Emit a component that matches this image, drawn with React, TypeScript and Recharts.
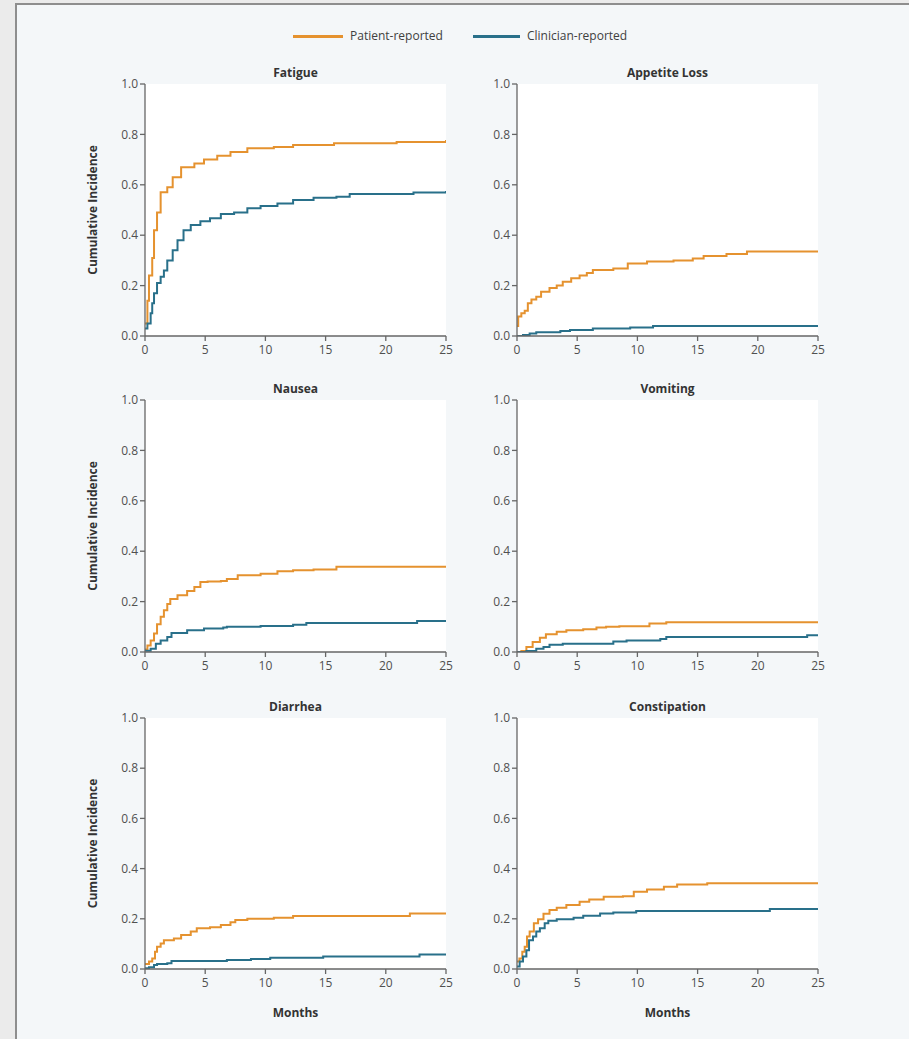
import React from 'react';
import { LineChart, Line, XAxis, YAxis, CartesianGrid } from 'recharts';

// ---------- Data (months, cumulative incidence) ----------
const MONTH_TICKS = [0, 5, 10, 15, 20, 25];
const INCIDENCE_TICKS = [0, 0.2, 0.4, 0.6, 0.8, 1.0];

const SERIES_NAMES = ['Patient-reported', 'Clinician-reported'];

const fatiguePatientT = [0, 0.2, 0.33, 0.6, 0.75, 1.0, 1.3, 1.85, 2.3, 3.0, 4.1, 4.9, 6.0, 7.1, 8.5, 10.7, 12.3, 15.7, 20.9, 25];
const fatiguePatientV = [0.05, 0.14, 0.24, 0.31, 0.42, 0.49, 0.57, 0.59, 0.63, 0.67, 0.685, 0.7, 0.715, 0.73, 0.745, 0.75, 0.758, 0.765, 0.77, 0.778];
const fatigueClinicianT = [0, 0.2, 0.47, 0.6, 0.75, 1.0, 1.3, 1.57, 1.85, 2.3, 2.7, 3.2, 3.8, 4.6, 5.4, 6.3, 7.4, 8.5, 9.6, 11, 12.3, 14, 15.9, 17, 22.3, 25];
const fatigueClinicianV = [0.03, 0.05, 0.09, 0.13, 0.17, 0.21, 0.235, 0.26, 0.3, 0.34, 0.38, 0.42, 0.44, 0.455, 0.467, 0.484, 0.49, 0.507, 0.516, 0.526, 0.54, 0.549, 0.553, 0.563, 0.569, 0.575];

const appetitePatientT = [0, 0.1, 0.36, 0.64, 0.9, 1.2, 1.6, 2.0, 2.7, 3.3, 3.8, 4.5, 5.2, 5.8, 6.3, 8.0, 9.2, 10.8, 13, 14.6, 15.5, 17.4, 19.1, 25];
const appetitePatientV = [0.04, 0.077, 0.09, 0.1, 0.13, 0.145, 0.156, 0.176, 0.19, 0.2, 0.215, 0.229, 0.24, 0.25, 0.262, 0.268, 0.288, 0.296, 0.3, 0.308, 0.317, 0.325, 0.335, 0.335];
const appetiteClinicianT = [0, 0.5, 1.05, 1.6, 3.6, 4.4, 6.3, 9.4, 11.3, 25];
const appetiteClinicianV = [0, 0.004, 0.01, 0.015, 0.02, 0.024, 0.03, 0.034, 0.04, 0.04];

const nauseaPatientT = [0, 0.2, 0.47, 0.75, 1.0, 1.3, 1.57, 1.85, 2.1, 2.7, 3.5, 4.1, 4.6, 5.2, 6.3, 6.8, 7.7, 9.6, 11, 12.3, 14, 15.9, 25];
const nauseaPatientV = [0.01, 0.026, 0.046, 0.073, 0.11, 0.14, 0.166, 0.19, 0.21, 0.225, 0.242, 0.258, 0.278, 0.28, 0.282, 0.29, 0.305, 0.311, 0.32, 0.324, 0.327, 0.338, 0.338];
const nauseaClinicianT = [0, 0.47, 0.9, 1.3, 1.85, 2.2, 3.5, 4.9, 6.5, 6.8, 9.6, 12.3, 13.4, 22.6, 25];
const nauseaClinicianV = [0.005, 0.013, 0.033, 0.046, 0.06, 0.075, 0.086, 0.093, 0.097, 0.1, 0.103, 0.108, 0.115, 0.123, 0.123];

const vomitingPatientT = [0, 0.36, 0.78, 1.3, 1.9, 2.4, 3.3, 4.1, 5.5, 6.6, 7.4, 8.5, 11, 12.4, 25];
const vomitingPatientV = [0, 0.004, 0.02, 0.04, 0.057, 0.07, 0.08, 0.086, 0.09, 0.097, 0.1, 0.102, 0.113, 0.118, 0.118];
const vomitingClinicianT = [0, 0.78, 1.6, 2.2, 2.7, 3.8, 8.0, 9.1, 11.9, 12.4, 24.1, 25];
const vomitingClinicianV = [0, 0.004, 0.013, 0.02, 0.029, 0.033, 0.042, 0.046, 0.052, 0.06, 0.066, 0.066];

const diarrheaPatientT = [0, 0.33, 0.6, 0.83, 1.0, 1.3, 1.57, 2.4, 3.0, 3.8, 4.3, 5.4, 6.3, 7.1, 7.5, 8.5, 10.7, 12.3, 22, 25];
const diarrheaPatientV = [0.02, 0.03, 0.042, 0.069, 0.089, 0.102, 0.115, 0.122, 0.135, 0.149, 0.162, 0.166, 0.175, 0.186, 0.195, 0.2, 0.204, 0.211, 0.221, 0.221];
const diarrheaClinicianT = [0, 0.33, 0.75, 1.0, 1.85, 2.2, 6.8, 8.8, 10.4, 14.8, 22.8, 25];
const diarrheaClinicianV = [0.003, 0.007, 0.016, 0.02, 0.023, 0.032, 0.036, 0.04, 0.045, 0.05, 0.058, 0.058];

const constipationPatientT = [0, 0.2, 0.44, 0.64, 0.83, 1.05, 1.4, 1.75, 2.2, 2.7, 3.3, 4.1, 5.2, 6.0, 7.2, 8.8, 9.7, 10.8, 12.2, 13.3, 15.8, 25];
const constipationPatientV = [0.03, 0.042, 0.069, 0.089, 0.129, 0.149, 0.182, 0.198, 0.22, 0.235, 0.244, 0.255, 0.268, 0.277, 0.288, 0.29, 0.308, 0.317, 0.328, 0.337, 0.342, 0.342];
const constipationClinicianT = [0, 0.22, 0.5, 0.78, 1.0, 1.33, 1.6, 1.9, 2.3, 2.6, 3.3, 4.7, 5.5, 6.9, 8.0, 9.9, 21, 25];
const constipationClinicianV = [0.01, 0.03, 0.05, 0.075, 0.115, 0.129, 0.149, 0.162, 0.182, 0.192, 0.198, 0.204, 0.212, 0.221, 0.225, 0.231, 0.239, 0.239];

// ---------- Styling ----------
const ORANGE = '#e5922f';
const TEAL = '#29708a';
const AXIS = '#666666';
const TICK_TEXT = '#505050';
const FONT = '"Open Sans", "DejaVu Sans", sans-serif';

const zip = (t: number[], v: number[]) => t.map((x, i) => ({ t: x, v: v[i] }));

type PanelProps = {
  title: string;
  patient: { t: number; v: number }[];
  clinician: { t: number; v: number }[];
  left: number;
  top: number;
  yLabel?: boolean;
  xLabel?: boolean;
};

const CHART_W = 371;
const Y_AXIS_W = 60;
const TOP_M = 30;
const PLOT_W = 301;

const Panel = ({ title, patient, clinician, left, top, yLabel, xLabel }: PanelProps) => {
  const xAxisH = xLabel ? 55 : 30;
  const plotH = xLabel ? 251 : 252;
  const height = TOP_M + plotH + xAxisH;
  const renderYLabel = (props: any) => {
    const vb = props.viewBox || {};
    const cx = (vb.x ?? 0) + 7;
    const cy = (vb.y ?? 0) + (vb.height ?? 0) / 2;
    return (
      <text
        x={cx}
        y={cy}
        transform={`rotate(-90 ${cx} ${cy})`}
        textAnchor="middle"
        dominantBaseline="central"
        fontSize={12}
        fontWeight={700}
        fill="#333"
        fontFamily={FONT}
      >
        Cumulative Incidence
      </text>
    );
  };
  const renderXLabel = (props: any) => {
    const vb = props.viewBox || {};
    const cx = (vb.x ?? 0) + (vb.width ?? 0) / 2;
    const cy = (vb.y ?? 0) + 43;
    return (
      <text
        x={cx}
        y={cy}
        textAnchor="middle"
        dominantBaseline="central"
        fontSize={12}
        fontWeight={700}
        fill="#333"
        fontFamily={FONT}
      >
        Months
      </text>
    );
  };
  return (
    <div style={{ position: 'absolute', left, top, width: CHART_W, height }}>
      <div
        style={{
          position: 'absolute',
          left: Y_AXIS_W,
          width: PLOT_W,
          top: TOP_M - 18,
          height: 14,
          lineHeight: '14px',
          textAlign: 'center',
          fontFamily: FONT,
          fontWeight: 700,
          fontSize: 12,
          color: '#333',
        }}
      >
        {title}
      </div>
      <LineChart
        width={CHART_W}
        height={height}
        margin={{ top: TOP_M, right: CHART_W - Y_AXIS_W - PLOT_W, left: 0, bottom: 0 }}
        style={{ fontFamily: FONT }}
      >
        <CartesianGrid horizontal={false} vertical={false} fill="#ffffff" stroke="none" />
        <XAxis
          type="number"
          dataKey="t"
          domain={[0, 25]}
          ticks={MONTH_TICKS}
          allowDataOverflow
          height={xAxisH}
          stroke={AXIS}
          strokeWidth={1.3}
          tickSize={5}
          tickMargin={4}
          tick={{ fill: TICK_TEXT, fontSize: 12 }}
          label={xLabel ? renderXLabel : undefined}
        />
        <YAxis
          type="number"
          domain={[0, 1]}
          ticks={INCIDENCE_TICKS}
          allowDataOverflow
          width={Y_AXIS_W}
          stroke={AXIS}
          strokeWidth={1.3}
          tickSize={5}
          tickMargin={2}
          tick={{ fill: TICK_TEXT, fontSize: 12 }}
          tickFormatter={(v: number) => v.toFixed(1)}
          label={yLabel ? renderYLabel : undefined}
        />
        <Line
          data={patient}
          dataKey="v"
          name={SERIES_NAMES[0]}
          type="stepAfter"
          stroke={ORANGE}
          strokeWidth={2}
          dot={false}
          isAnimationActive={false}
        />
        <Line
          data={clinician}
          dataKey="v"
          name={SERIES_NAMES[1]}
          type="stepAfter"
          stroke={TEAL}
          strokeWidth={2}
          dot={false}
          isAnimationActive={false}
        />
      </LineChart>
    </div>
  );
};

const LegendItem = ({ color, label, lineLeft, lineWidth, textLeft }: { color: string; label: string; lineLeft: number; lineWidth: number; textLeft: number }) => (
  <>
    <div style={{ position: 'absolute', left: lineLeft, top: 35, width: lineWidth, height: 3, background: color }} />
    <div
      style={{
        position: 'absolute',
        left: textLeft,
        top: 28,
        height: 16,
        lineHeight: '16px',
        fontFamily: FONT,
        fontSize: 12,
        color: '#404040',
        whiteSpace: 'nowrap',
      }}
    >
      {label}
    </div>
  </>
);

export default function App() {
  const LEFT_X = 85;
  const RIGHT_X = 457;
  const ROWS = [54, 370, 688];
  return (
    <div style={{ position: 'absolute', left: 0, top: 0, width: 909, height: 1039, background: '#ebebeb', overflow: 'hidden' }}>
      <div
        style={{
          position: 'absolute',
          left: 15,
          top: 3,
          width: 920,
          height: 1060,
          background: '#f4f7f9',
          borderLeft: '2px solid #8e8e8e',
          borderTop: '2px solid #8e8e8e',
        }}
      />
      <LegendItem color={ORANGE} label={SERIES_NAMES[0]} lineLeft={293} lineWidth={50} textLeft={350} />
      <LegendItem color={TEAL} label={SERIES_NAMES[1]} lineLeft={473} lineWidth={47} textLeft={527} />

      <Panel title="Fatigue" patient={zip(fatiguePatientT, fatiguePatientV)} clinician={zip(fatigueClinicianT, fatigueClinicianV)} left={LEFT_X} top={ROWS[0]} yLabel />
      <Panel title="Appetite Loss" patient={zip(appetitePatientT, appetitePatientV)} clinician={zip(appetiteClinicianT, appetiteClinicianV)} left={RIGHT_X} top={ROWS[0]} />
      <Panel title="Nausea" patient={zip(nauseaPatientT, nauseaPatientV)} clinician={zip(nauseaClinicianT, nauseaClinicianV)} left={LEFT_X} top={ROWS[1]} yLabel />
      <Panel title="Vomiting" patient={zip(vomitingPatientT, vomitingPatientV)} clinician={zip(vomitingClinicianT, vomitingClinicianV)} left={RIGHT_X} top={ROWS[1]} />
      <Panel title="Diarrhea" patient={zip(diarrheaPatientT, diarrheaPatientV)} clinician={zip(diarrheaClinicianT, diarrheaClinicianV)} left={LEFT_X} top={ROWS[2]} yLabel xLabel />
      <Panel title="Constipation" patient={zip(constipationPatientT, constipationPatientV)} clinician={zip(constipationClinicianT, constipationClinicianV)} left={RIGHT_X} top={ROWS[2]} xLabel />
    </div>
  );
}
